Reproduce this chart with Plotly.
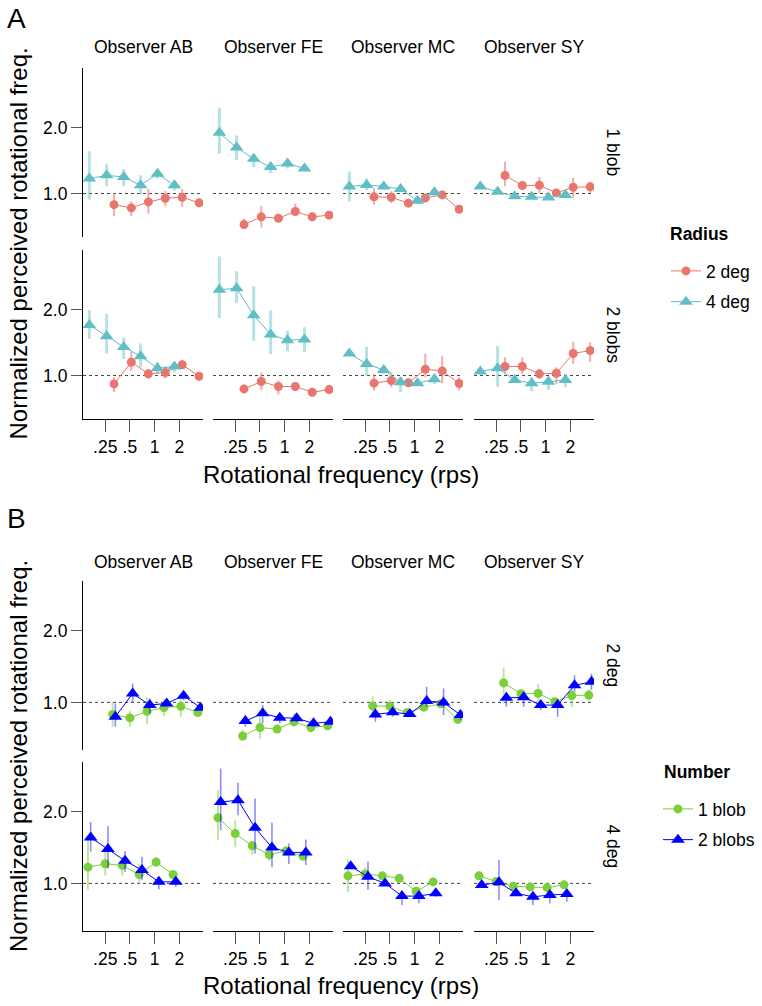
import plotly.graph_objects as go

# ---------------- data ----------------
OBSERVERS = ["AB", "FE", "MC", "SY"]
FREQ_2DEG = [0.32, 0.52, 0.84, 1.35, 2.17, 3.49]
FREQ_4DEG = [0.16, 0.26, 0.42, 0.675, 1.085, 1.745]
X_TICKS = [0.25, 0.5, 1, 2]
X_TICKTEXT = [".25", ".5", "1", "2"]
Y_TICKS = [1, 2]
Y_TICKTEXT = ["1.0", "2.0"]

# ---- 1 blob (used in panel A row 1 and panel B green series)
ab_1blob_2deg = [0.89, 0.86, 0.916, 0.952, 0.962, 0.907]
ab_1blob_2deg_lo = [0.79, 0.79, 0.81, 0.875, 0.87, 0.88]
ab_1blob_2deg_hi = [1.007, 0.92, 1.05, 1.03, 1.05, 0.93]
ab_1blob_4deg = [1.17, 1.21, 1.19, 1.09, 1.23, 1.09]
ab_1blob_4deg_lo = [0.94, 1.08, 1.08, 0.99, 1.17, 1.035]
ab_1blob_4deg_hi = [1.56, 1.36, 1.29, 1.21, 1.29, 1.14]

fe_1blob_2deg = [0.722, 0.783, 0.772, 0.828, 0.783, 0.797]
fe_1blob_2deg_lo = [0.69, 0.70, 0.75, 0.79, 0.748, 0.78]
fe_1blob_2deg_hi = [0.766, 0.875, 0.79, 0.90, 0.817, 0.815]
fe_1blob_4deg = [1.89, 1.62, 1.44, 1.32, 1.37, 1.30]
fe_1blob_4deg_lo = [1.52, 1.42, 1.32, 1.24, 1.30, 1.27]
fe_1blob_4deg_hi = [2.46, 1.84, 1.51, 1.38, 1.43, 1.33]

mc_1blob_2deg = [0.966, 0.962, 0.904, 0.955, 0.986, 0.848]
mc_1blob_2deg_lo = [0.89, 0.907, 0.89, 0.94, 0.955, 0.835]
mc_1blob_2deg_hi = [1.06, 1.024, 0.92, 0.97, 1.024, 0.86]
mc_1blob_4deg = [1.076, 1.095, 1.076, 1.05, 0.926, 1.014]
mc_1blob_4deg_lo = [0.92, 1.035, 1.045, 1.03, 0.90, 0.98]
mc_1blob_4deg_hi = [1.26, 1.17, 1.105, 1.07, 0.95, 1.05]

sy_1blob_2deg = [1.208, 1.088, 1.091, 1.007, 1.068, 1.073]
sy_1blob_2deg_lo = [1.08, 1.07, 1.007, 0.99, 0.955, 1.007]
sy_1blob_2deg_hi = [1.40, 1.11, 1.19, 1.025, 1.18, 1.13]
sy_1blob_4deg = [1.076, 1.018, 0.972, 0.966, 0.959, 0.986]
sy_1blob_4deg_lo = [1.06, 1.0, 0.955, 0.95, 0.94, 0.97]
sy_1blob_4deg_hi = [1.09, 1.035, 0.99, 0.98, 0.975, 1.0]

# ---- 2 blobs, panel A
ab_2blobs_2deg = [0.916, 1.15, 1.018, 1.032, 1.12, 0.993]
ab_2blobs_2deg_lo = [0.839, 1.054, 0.966, 0.966, 1.07, 0.949]
ab_2blobs_2deg_hi = [0.983, 1.28, 1.072, 1.10, 1.18, 1.035]
ab_2blobs_4deg = [1.70, 1.51, 1.35, 1.225, 1.08, 1.10]
ab_2blobs_4deg_lo = [1.47, 1.26, 1.19, 1.09, 1.02, 1.035]
ab_2blobs_4deg_hi = [1.99, 1.91, 1.49, 1.40, 1.15, 1.15]

fe_2blobs_2deg = [0.869, 0.939, 0.891, 0.891, 0.839, 0.863]
fe_2blobs_2deg_lo = [0.83, 0.86, 0.82, 0.854, 0.825, 0.85]
fe_2blobs_2deg_hi = [0.91, 1.035, 0.949, 0.917, 0.855, 0.877]
fe_2blobs_4deg = [2.46, 2.50, 1.88, 1.54, 1.45, 1.46]
fe_2blobs_4deg_lo = [1.83, 2.14, 1.44, 1.25, 1.29, 1.28]
fe_2blobs_4deg_hi = [3.49, 2.99, 2.55, 1.98, 1.60, 1.66]

mc_2blobs_2deg = [0.923, 0.949, 0.926, 1.068, 1.05, 0.92]
mc_2blobs_2deg_lo = [0.854, 0.884, 0.91, 0.983, 0.923, 0.854]
mc_2blobs_2deg_hi = [1.018, 1.035, 0.94, 1.26, 1.23, 0.983]
mc_2blobs_4deg = [1.26, 1.13, 1.06, 0.932, 0.923, 0.962]
mc_2blobs_4deg_lo = [1.24, 1.0, 1.018, 0.839, 0.905, 0.916]
mc_2blobs_4deg_hi = [1.28, 1.35, 1.11, 0.983, 0.94, 1.018]

sy_2blobs_2deg = [1.10, 1.10, 1.018, 1.024, 1.26, 1.30]
sy_2blobs_2deg_lo = [1.018, 1.018, 0.966, 0.916, 1.13, 1.15]
sy_2blobs_2deg_hi = [1.21, 1.21, 1.072, 1.09, 1.42, 1.42]
sy_2blobs_4deg = [1.043, 1.08, 0.955, 0.923, 0.936, 0.955]
sy_2blobs_4deg_lo = [1.025, 0.89, 0.94, 0.848, 0.86, 0.884]
sy_2blobs_4deg_hi = [1.06, 1.36, 0.97, 0.983, 0.983, 1.018]

# ---- 2 blobs, panel B
ab_2blobs_2deg_b = [0.87, 1.09, 0.974, 0.99, 1.066, 0.95]
ab_2blobs_2deg_b_lo = [0.79, 1.006, 0.90, 0.97, 1.02, 0.93]
ab_2blobs_2deg_b_hi = [0.99, 1.20, 1.04, 1.01, 1.108, 0.97]
ab_2blobs_4deg_b = [1.56, 1.394, 1.245, 1.138, 1.015, 1.015]
ab_2blobs_4deg_b_lo = [1.36, 1.156, 1.119, 1.032, 0.944, 0.968]
ab_2blobs_4deg_b_hi = [1.815, 1.74, 1.367, 1.294, 1.066, 1.066]

fe_2blobs_2deg_b = [0.834, 0.899, 0.862, 0.857, 0.816, 0.829]
fe_2blobs_2deg_b_lo = [0.79, 0.816, 0.816, 0.829, 0.79, 0.815]
fe_2blobs_2deg_b_hi = [0.884, 0.974, 0.90, 0.90, 0.857, 0.843]
fe_2blobs_4deg_b = [2.20, 2.24, 1.713, 1.417, 1.35, 1.35]
fe_2blobs_4deg_b_lo = [1.675, 1.937, 1.337, 1.168, 1.206, 1.194]
fe_2blobs_4deg_b_hi = [3.04, 2.65, 2.277, 1.80, 1.473, 1.53]

mc_2blobs_2deg_b = [0.89, 0.908, 0.893, 1.013, 1.0, 0.884]
mc_2blobs_2deg_b_lo = [0.829, 0.87, 0.87, 0.958, 0.884, 0.843]
mc_2blobs_2deg_b_hi = [0.943, 0.958, 0.928, 1.163, 1.145, 0.928]
mc_2blobs_4deg_b = [1.18, 1.066, 1.0, 0.884, 0.884, 0.908]
mc_2blobs_4deg_b_lo = [1.16, 0.937, 0.98, 0.811, 0.824, 0.879]
mc_2blobs_4deg_b_hi = [1.20, 1.233, 1.02, 0.922, 0.922, 0.937]

sy_2blobs_2deg_b = [1.045, 1.05, 0.974, 0.974, 1.18, 1.22]
sy_2blobs_2deg_b_lo = [0.958, 0.958, 0.928, 0.87, 1.108, 1.126]
sy_2blobs_2deg_b_hi = [1.108, 1.108, 1.022, 1.022, 1.30, 1.32]
sy_2blobs_4deg_b = [0.984, 1.01, 0.908, 0.878, 0.893, 0.902]
sy_2blobs_4deg_b_lo = [0.965, 0.851, 0.89, 0.811, 0.824, 0.837]
sy_2blobs_4deg_b_hi = [1.0, 1.253, 0.925, 0.922, 0.922, 0.937]

# ---------------- styling / layout ----------------
W, H = 762, 1006
FONT = "Liberation Sans, Arial, Helvetica, sans-serif"
RED, RED_E = "#E8766E", "rgba(232,118,110,0.6)"
CYAN, CYAN_E = "#60BEC4", "rgba(96,190,196,0.45)"
GREEN, GREEN_E = "#7BCF3A", "rgba(123,207,58,0.5)"
BLUE, BLUE_E = "#0000FF", "rgba(0,0,255,0.45)"

COL_LEFT = [83, 213, 343, 474]
COL_W = 120
ROW_TOP = {"A": [68, 250], "B": [581, 762]}
ROW_H = 169
XRANGE = [-0.873, 0.590]                      # log10 units
YRANGE = {"A": [-0.198, 0.572], "B": [-0.2005, 0.511]}
DODGE = 2 ** 0.055
TXT = 17.5
TITLE = 24


def px(x):
    return x / W


def py(y):
    return 1 - y / H


def data(name):
    g = globals()
    return g[name], g[name + "_lo"], g[name + "_hi"]


fig = go.Figure()
layout = {}
shapes = []
annotations = []

panel_cfg = {
    "A": {"rows": ["1blob", "2blobs"], "row_labels": ["1 blob", "2 blobs"]},
    "B": {"rows": ["2deg", "4deg"], "row_labels": ["2 deg", "4 deg"]},
}

k = 0
for panel in ["A", "B"]:
    for ri in range(2):
        for ci, obs in enumerate(OBSERVERS):
            k += 1
            xa = "x" if k == 1 else f"x{k}"
            ya = "y" if k == 1 else f"y{k}"
            xl = "xaxis" if k == 1 else f"xaxis{k}"
            yl = "yaxis" if k == 1 else f"yaxis{k}"
            top = ROW_TOP[panel][ri]
            left = COL_LEFT[ci]
            bottom_row = ri == 1
            first_col = ci == 0
            layout[xl] = dict(
                domain=[px(left), px(left + COL_W)], anchor=ya, type="log",
                range=XRANGE, showgrid=False, zeroline=False,
                showline=bottom_row, linecolor="#000", linewidth=1.2,
                ticks="outside" if bottom_row else "", ticklen=12, tickwidth=1,
                tickcolor="#555", tickvals=X_TICKS, ticktext=X_TICKTEXT,
                showticklabels=bottom_row, tickfont=dict(size=TXT, color="#000", family=FONT),
                fixedrange=True,
            )
            layout[yl] = dict(
                domain=[py(top + ROW_H), py(top)], anchor=xa, type="log",
                range=YRANGE[panel], showgrid=False, zeroline=False,
                showline=first_col, linecolor="#000", linewidth=1.2,
                ticks="outside" if first_col else "", ticklen=11, tickwidth=1,
                tickcolor="#555", tickvals=Y_TICKS, ticktext=Y_TICKTEXT,
                showticklabels=first_col, tickfont=dict(size=TXT, color="#000", family=FONT),
                fixedrange=True,
            )
            shapes.append(dict(type="line", xref=f"{xa} domain", yref=ya, x0=0, x1=1,
                               y0=1, y1=1, layer="below",
                               line=dict(color="#444", width=1, dash="3px,3px")))

            if panel == "A":
                num = panel_cfg["A"]["rows"][ri]
                series = [
                    ("2 deg", f"{obs.lower()}_{num}_2deg", FREQ_2DEG, RED, RED_E, "circle", 9, 2.0),
                    ("4 deg", f"{obs.lower()}_{num}_4deg", FREQ_4DEG, CYAN, CYAN_E, "triangle-up", 12, 3.0),
                ]
                legend = "legend"
            else:
                rad = panel_cfg["B"]["rows"][ri]
                freq = FREQ_2DEG if rad == "2deg" else FREQ_4DEG
                series = [
                    ("1 blob", f"{obs.lower()}_1blob_{rad}", [f / DODGE for f in freq], GREEN, GREEN_E, "circle", 9, 2.0),
                    ("2 blobs", f"{obs.lower()}_2blobs_{rad}_b", [f * DODGE for f in freq], BLUE, BLUE_E, "triangle-up", 12, 1.6),
                ]
                legend = "legend2"
            for (label, name, xs, col, ecol, sym, msize, ew) in series:
                v, lo, hi = data(name)
                fig.add_trace(go.Scatter(
                    x=xs, y=v, xaxis=xa, yaxis=ya, mode="lines+markers",
                    name=label, legend=legend, legendgroup=label,
                    showlegend=(ri == 0 and ci == 0),
                    line=dict(color=col, width=1),
                    marker=dict(symbol=sym, size=msize, color=col, line=dict(width=0)),
                    error_y=dict(type="data", symmetric=False,
                                 array=[h - y for h, y in zip(hi, v)],
                                 arrayminus=[y - l for y, l in zip(v, lo)],
                                 color=ecol, thickness=ew, width=0),
                    hoverinfo="skip",
                ))

        # row strip label
        annotations.append(dict(
            text=panel_cfg[panel]["row_labels"][ri], xref="paper", yref="paper",
            x=px(613), y=py(ROW_TOP[panel][ri] + ROW_H / 2), textangle=90,
            showarrow=False, font=dict(size=TXT, family=FONT, color="#000"),
            xanchor="center", yanchor="middle"))

    # column strip labels
    strip_y = 47 if panel == "A" else 562
    for ci, obs in enumerate(OBSERVERS):
        annotations.append(dict(
            text=f"Observer {obs}", xref="paper", yref="paper",
            x=px(COL_LEFT[ci] + COL_W / 2), y=py(strip_y), showarrow=False,
            font=dict(size=TXT, family=FONT, color="#000"), xanchor="center", yanchor="middle"))
    # panel letter
    annotations.append(dict(
        text=panel, xref="paper", yref="paper", x=px(5),
        y=py(18 if panel == "A" else 518), showarrow=False,
        font=dict(size=28, family=FONT, color="#000"), xanchor="left", yanchor="middle"))
    # axis titles
    top0 = ROW_TOP[panel][0]
    bot1 = ROW_TOP[panel][1] + ROW_H
    annotations.append(dict(
        text="Normalized perceived rotational freq.", xref="paper", yref="paper",
        x=px(18), y=py((top0 + bot1) / 2), textangle=-90, showarrow=False,
        font=dict(size=TITLE, family=FONT, color="#000"), xanchor="center", yanchor="middle"))
    annotations.append(dict(
        text="Rotational frequency (rps)", xref="paper", yref="paper",
        x=px(341), y=py(474 if panel == "A" else 985), showarrow=False,
        font=dict(size=TITLE, family=FONT, color="#000"), xanchor="center", yanchor="middle"))

# legend titles as annotations
annotations.append(dict(text="<b>Radius</b>", xref="paper", yref="paper", x=px(668), y=py(234),
                        showarrow=False, xanchor="left", yanchor="middle",
                        font=dict(size=TXT, family=FONT, color="#000")))
annotations.append(dict(text="<b>Number</b>", xref="paper", yref="paper", x=px(662), y=py(772),
                        showarrow=False, xanchor="left", yanchor="middle",
                        font=dict(size=TXT, family=FONT, color="#000")))

fig.update_layout(
    width=W, height=H, autosize=False,
    margin=dict(l=0, r=0, t=0, b=0, autoexpand=False),
    paper_bgcolor="white", plot_bgcolor="white",
    font=dict(family=FONT, size=TXT, color="#000"),
    shapes=shapes, annotations=annotations,
    legend=dict(x=px(666), y=py(253), xanchor="left", yanchor="top",
                font=dict(size=TXT), tracegroupgap=5, bgcolor="rgba(0,0,0,0)"),
    legend2=dict(x=px(658), y=py(791), xanchor="left", yanchor="top",
                 font=dict(size=TXT), tracegroupgap=5, bgcolor="rgba(0,0,0,0)"),
    **layout,
)

# remove the page's default 8px body margin so the figure fills the window exactly
fig.write_html("out.html", config={"displayModeBar": False, "staticPlot": False},
               post_script="document.body.style.margin='0px';")
